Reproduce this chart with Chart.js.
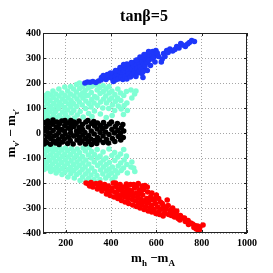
<!DOCTYPE html>
<html>
<head>
<meta charset="utf-8">
<script src="https://cdn.jsdelivr.net/npm/chart.js"></script>
<style>
  html, body { margin: 0; padding: 0; background: #ffffff; }
  canvas { display: block; }
</style>
</head>
<body>
<canvas id="chart" width="273" height="273"></canvas>
<script>
// tick labels
const xTicks = [200, 400, 600, 800, 1000];
const yTicks = [-400, -300, -200, -100, 0, 100, 200, 300, 400];

// points, [m_h - m_A, m_nu' - m_tau']
const blackPts = [
  [104,42],[106,18],[103,-5],[108,-28],[105,-44],
  [118,30],[116,5],[120,-15],[117,-38],[121,48],
  [132,40],[130,-2],[134,-22],[129,20],[133,-45],
  [145,10],[147,-32],[143,35],[148,-12],[144,52],
  [158,24],[160,-8],[156,-40],[161,44],
  [170,2],[172,36],[168,-26],[171,-46],[169,18],
  [183,48],[185,-14],[182,14],[186,-36],
  [196,30],[198,-4],[194,-24],[197,50],[195,8],
  [209,-42],[211,20],[208,40],[212,-16],
  [222,0],[224,34],[220,-30],[223,50],[221,16],
  [235,-12],[237,26],[233,-44],[236,44],
  [248,8],[250,-28],[246,38],[249,-6],
  [261,22],[263,-40],[259,48],[262,-18],[260,4],
  [274,34],[276,-8],[272,-32],[275,14],
  [287,-22],[289,44],[285,2],[288,-44],
  [300,24],[302,-10],[298,50],[301,-34],
  [313,8],[315,38],[311,-24],[314,-46],
  [326,-4],[328,28],[324,46],[327,-30],
  [339,16],[341,-18],[337,-42],[340,40],
  [352,2],[354,30],[350,-28],
  [365,-12],[367,42],[363,18],[366,-38],
  [378,26],[380,-26],[376,4],
  [391,-6],[393,36],[389,-40],
  [404,14],[406,-22],[402,44],
  [417,-34],[419,26],[415,0],
  [430,10],[432,-14],[428,38],
  [443,-28],[445,20],[441,-2],
  [456,8],[454,-18],[452,34]
];

const cyanUpPts = [
  [104,150],[106,128],[103,104],[107,82],[105,62],
  [118,140],[120,116],[117,94],[119,70],[121,158],
  [131,130],[133,106],[130,84],[132,60],[134,152],
  [144,168],[146,118],[143,96],[147,74],[145,142],
  [157,156],[159,132],[156,86],[160,108],[158,62],
  [170,176],[172,122],[169,98],[171,148],[173,70],
  [183,160],[185,136],[182,112],[186,84],[184,58],
  [196,184],[198,126],[195,102],[197,150],[199,74],
  [209,168],[211,140],[208,92],[212,116],[210,62],
  [222,186],[224,130],[221,156],[223,104],[225,80],
  [235,176],[237,148],[234,118],[236,90],[238,60],
  [248,194],[250,136],[247,164],[249,106],[251,72],
  [261,200],[263,152],[260,124],[262,178],[264,86],
  [274,186],[276,140],[273,112],[275,160],[277,64],
  [287,196],[289,128],[286,170],[288,98],[290,150],
  [300,180],[302,118],[299,150],[301,78],[303,194],
  [313,162],[315,134],[312,104],[314,186],[316,66],
  [326,192],[328,146],[325,120],[327,88],
  [339,172],[341,110],[338,140],[340,192],
  [352,158],[354,124],[351,182],[353,76],
  [365,190],[367,136],[364,100],[366,166],
  [378,176],[380,120],[377,148],[379,62],
  [391,186],[393,132],[390,98],[392,160],
  [404,168],[406,112],[403,140],[405,70],
  [417,154],[419,126],[416,90],
  [430,176],[432,108],[429,140],
  [443,130],[445,96],[442,160],
  [456,150],[458,110],[455,74],
  [470,120],[468,166],[472,90],
  [488,172],[492,140],
  [510,168],[504,156]
];

const cyanLowPts = [
  [104,-62],[106,-84],[103,-108],[107,-128],[105,-146],
  [118,-72],[120,-96],[117,-118],[119,-140],[121,-56],
  [131,-64],[133,-88],[130,-110],[132,-134],[134,-154],
  [144,-76],[146,-100],[143,-124],[147,-146],[145,-58],
  [157,-66],[159,-90],[156,-114],[160,-138],[158,-160],
  [170,-80],[172,-104],[169,-128],[171,-150],[173,-58],
  [183,-68],[185,-94],[182,-118],[186,-142],[184,-166],
  [196,-84],[198,-108],[195,-132],[197,-156],[199,-60],
  [209,-70],[211,-96],[208,-122],[212,-146],[210,-176],
  [222,-86],[224,-112],[221,-138],[223,-162],[225,-62],
  [235,-74],[237,-100],[234,-126],[236,-150],[238,-180],
  [248,-90],[250,-116],[247,-140],[249,-166],[251,-64],
  [261,-78],[263,-104],[260,-130],[262,-158],[264,-190],
  [274,-94],[276,-120],[273,-146],[275,-176],[277,-60],
  [287,-72],[289,-108],[286,-136],[288,-164],[290,-192],
  [300,-88],[302,-124],[299,-152],[301,-182],[303,-58],
  [313,-100],[315,-140],[312,-168],[314,-74],
  [326,-116],[328,-154],[325,-186],[327,-86],
  [339,-66],[341,-130],[338,-170],[340,-100],
  [352,-92],[354,-148],[351,-186],[353,-120],
  [365,-76],[367,-136],[364,-164],[366,-108],
  [378,-100],[380,-152],[377,-180],[379,-126],
  [391,-64],[393,-118],[390,-170],[392,-144],
  [404,-90],[406,-136],[403,-160],[405,-186],
  [417,-110],[419,-150],[416,-78],[418,-176],
  [430,-96],[432,-132],[429,-160],
  [443,-120],[445,-150],[442,-84],
  [456,-66],[458,-108],[455,-140],
  [470,-126],[468,-92],[472,-160],
  [488,-136],[492,-116],
  [505,-154],[500,-140]
];

const bluePts = [
  [285,200],[296,204],[308,203],[320,206],[333,202],[345,208],[356,212],
  [368,220],[378,214],[390,222],[372,226],[358,222],
  [400,230],[405,218],[412,240],[418,224],[425,236],[430,250],[436,228],
  [442,244],[446,262],[450,236],[455,252],[460,270],[464,242],[468,258],
  [472,230],[476,250],[480,272],[484,262],[488,240],[492,256],[496,278],
  [500,266],[504,248],[508,286],[512,272],[516,258],[520,292],[524,280],
  [528,264],[532,298],[536,286],[540,304],[544,276],[548,300],[552,312],
  [556,292],[560,306],[564,318],[568,300],[572,312],[576,322],[580,310],
  [584,326],[590,316],[536,238],[541,222],[560,250],[548,262],
  [410,206],[420,212],[432,216],[444,222],[452,214],[462,226],[470,216],
  [478,236],[486,224],[494,232],[502,238],[510,226],[518,240],[526,248],
  [534,254],[542,246],[550,270],[558,282],[566,290],[574,270],[582,296],
  [588,302],[594,284],[598,330],[604,320],[610,306],
  [470,276],[490,282],[512,292],[528,304],[546,314],[566,326],
  [440,262],[456,274],[420,250],[398,240],[384,234],[366,230],
  [622,284],[626,296],[632,318],[638,306],[646,330],[652,322],[660,336],
  [672,328],[682,334],[690,346],[700,340],[708,358],[716,352],[728,346],
  [738,356],[746,362],[756,370],[768,366]
];

const redPts = [
  [290,-200],[300,-204],[312,-198],[322,-206],[334,-202],[344,-212],[352,-200],
  [362,-218],[372,-206],[380,-226],[388,-212],[396,-232],[404,-220],[410,-200],
  [416,-236],[422,-214],[428,-244],[434,-226],[440,-206],[446,-250],[450,-232],
  [456,-216],[462,-256],[466,-240],[470,-222],[476,-262],[480,-246],[486,-206],
  [490,-234],[494,-266],[498,-252],[504,-220],[508,-272],[512,-240],[518,-258],
  [522,-280],[526,-228],[530,-264],[536,-288],[540,-248],[546,-274],[550,-210],
  [554,-294],[558,-262],[562,-236],[566,-280],[572,-300],[576,-254],[580,-290],
  [586,-268],[590,-306],[596,-282],[600,-248],[606,-296],[612,-314],[618,-276],
  [624,-304],[630,-290],[636,-320],[642,-300],[648,-268],[654,-326],[660,-310],
  [666,-330],[672,-316],[680,-336],[688,-326],[696,-342],[704,-348],[716,-340],
  [728,-354],[742,-366],[752,-360],[766,-378],[776,-384],[782,-372],[792,-376],
  [786,-392],[806,-368],
  [420,-200],[444,-218],[468,-204],[482,-228],[500,-206],[514,-212],[532,-240],
  [544,-226],[458,-244],[474,-232],[492,-248],[520,-244],[538,-270],[556,-276],
  [570,-266],
  [430,-262],[446,-270],[462,-276],[478,-282],[496,-288],[512,-294],[528,-300],
  [546,-306],[564,-312],[580,-316],[598,-322],[614,-326],[630,-332],[380,-244],
  [396,-250],[414,-256],[360,-232],[340,-224],[320,-216],[306,-212],[470,-212],
  [520,-202],[538,-212],[560,-216],[580,-240],[596,-262],[610,-262],[626,-282],
  [652,-290],[640,-306],[672,-300],[690,-312],[706,-330],[724,-340],[740,-350],
  [760,-364],[770,-370],[790,-386]
];

const serif = "'Liberation Serif', 'DejaVu Serif', serif";

function toXY(pts) {
  return pts.map(p => ({ x: p[0], y: p[1] }));
}

function ds(pts, color, order) {
  return {
    data: toXY(pts),
    backgroundColor: color,
    borderColor: color,
    borderWidth: 0,
    pointRadius: 2.8,
    pointHoverRadius: 2.8,
    order: order
  };
}

// draws text pieces with subscripts, centred on x
function drawParts(ctx, parts, x, y, size) {
  let w = 0;
  parts.forEach(p => {
    ctx.font = (p.sub ? 'bold ' + Math.round(size * 0.7) : 'bold ' + size) + 'px ' + serif;
    w += ctx.measureText(p.t).width;
  });
  let cx = x - w / 2;
  parts.forEach(p => {
    ctx.font = (p.sub ? 'bold ' + Math.round(size * 0.7) : 'bold ' + size) + 'px ' + serif;
    ctx.fillText(p.t, cx, p.sub ? y + size * 0.3 : y);
    cx += ctx.measureText(p.t).width;
  });
}

const framePlugin = {
  id: 'frame',
  afterDraw(chart) {
    const ctx = chart.ctx;
    const a = chart.chartArea;
    const xs = chart.scales.x, ys = chart.scales.y;
    ctx.save();
    ctx.strokeStyle = '#222';
    ctx.lineWidth = 1;
    ctx.strokeRect(a.left + 0.5, a.top + 0.5, a.right - a.left - 1, a.bottom - a.top - 1);
    // inward ticks
    ctx.beginPath();
    xTicks.forEach(v => {
      const px = Math.round(xs.getPixelForValue(v)) + 0.5;
      ctx.moveTo(px, a.bottom); ctx.lineTo(px, a.bottom - 3);
      ctx.moveTo(px, a.top); ctx.lineTo(px, a.top + 3);
    });
    yTicks.forEach(v => {
      const py = Math.round(ys.getPixelForValue(v)) + 0.5;
      ctx.moveTo(a.left, py); ctx.lineTo(a.left + 3, py);
      ctx.moveTo(a.right, py); ctx.lineTo(a.right - 3, py);
    });
    ctx.stroke();

    ctx.fillStyle = '#000';
    ctx.textBaseline = 'alphabetic';
    ctx.textAlign = 'center';
    ctx.font = 'bold 16px ' + serif;
    ctx.fillText('tanβ=5', 144, 21);

    ctx.textAlign = 'left';
    drawParts(ctx, [
      { t: 'm' }, { t: 'h', sub: true }, { t: ' \u2212m' }, { t: 'A', sub: true }
    ], 153, 262, 13);

    ctx.translate(15, 133);
    ctx.rotate(-Math.PI / 2);
    drawParts(ctx, [
      { t: 'm' }, { t: 'ν′', sub: true }, { t: ' \u2212 m' }, { t: 'τ′', sub: true }
    ], 0, 0, 13);
    ctx.restore();
  }
};

new Chart(document.getElementById('chart'), {
  type: 'scatter',
  data: {
    datasets: [
      ds(cyanUpPts, 'rgb(127,255,212)', 4),
      ds(cyanLowPts, 'rgb(127,255,212)', 4),
      ds(blackPts, '#000000', 3),
      ds(bluePts, 'rgb(30,55,250)', 2),
      ds(redPts, 'rgb(255,0,0)', 1)
    ]
  },
  options: {
    responsive: false,
    animation: false,
    devicePixelRatio: 1,
    layout: { padding: { top: 33, right: 26, left: 0, bottom: 0 } },
    plugins: { legend: { display: false }, tooltip: { enabled: false } },
    scales: {
      x: {
        type: 'linear',
        min: 100,
        max: 1000,
        afterBuildTicks: s => { s.ticks = xTicks.map(v => ({ value: v })); },
        afterFit: s => { s.height = 40; },
        grid: { color: 'rgba(0,0,0,0.35)', drawTicks: false },
        border: { display: false, dash: [1, 2] },
        ticks: {
          padding: 4,
          maxRotation: 0,
          color: '#000',
          callback: v => String(v),
          font: { family: serif, size: 10, weight: 'bold' }
        }
      },
      y: {
        type: 'linear',
        min: -400,
        max: 400,
        afterBuildTicks: s => { s.ticks = yTicks.map(v => ({ value: v })); },
        afterFit: s => { s.width = 43; },
        grid: { color: 'rgba(0,0,0,0.35)', drawTicks: false },
        border: { display: false, dash: [1, 2] },
        ticks: {
          padding: 2,
          color: '#000',
          callback: v => String(v),
          font: { family: serif, size: 10, weight: 'bold' }
        }
      }
    }
  },
  plugins: [framePlugin]
});
</script>
</body>
</html>
